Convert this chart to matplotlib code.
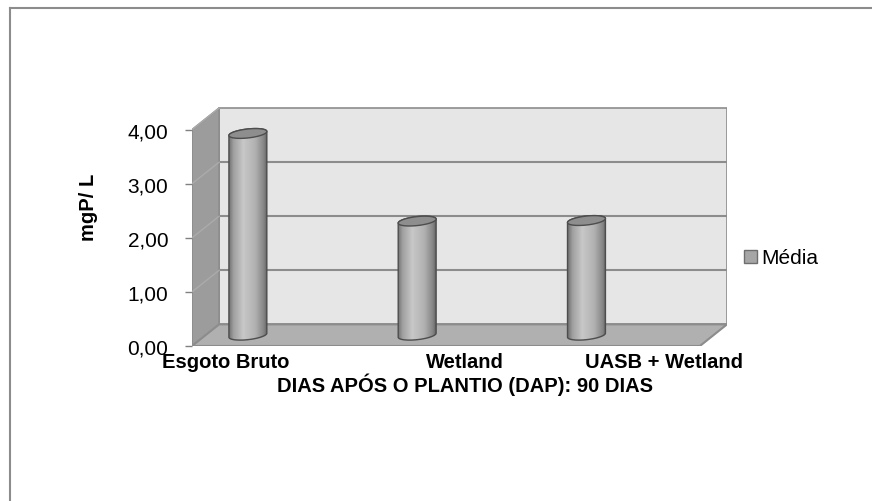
import numpy as np
import matplotlib.pyplot as plt
from matplotlib.patches import Polygon, Patch
from matplotlib.lines import Line2D
from matplotlib.colors import LinearSegmentedColormap

categorias = ['Esgoto Bruto', 'Wetland', 'UASB + Wetland']
media = [3.73, 2.11, 2.12]
yticks = [0, 1, 2, 3, 4]
ytick_labels = ['0,00', '1,00', '2,00', '3,00', '4,00']
label_pos = [-0.05, 1.36, 2.54]   # onde o Excel pôs os rótulos
titulo_x = 'DIAS APÓS O PLANTIO (DAP): 90 DIAS'

plt.rcParams['font.family'] = ['Liberation Sans', 'DejaVu Sans']

W, H = 872, 502
fig = plt.figure(figsize=(W / 100, H / 100), dpi=100)

# eixo: 1 categoria = 169.3 px, 1 mg/L = 54.08 px
x0, x1 = -0.25, 2.75
DX, DY = 0.16, 0.40  # profundidade do 3d
ymax = 4.6
ax_w = (x1 + DX - x0) * 169.3
ax_h = ymax * 54.08
ax = fig.add_axes([192 / W, 1 - 347 / H, ax_w / W, ax_h / H])
ax.set_xlim(x0, x1 + DX)
ax.set_ylim(0, ymax)
for s in ax.spines.values():
    s.set_visible(False)

# paredes
ax.add_patch(Polygon([(x0 + DX, DY), (x1 + DX, DY), (x1 + DX, 4 + DY), (x0 + DX, 4 + DY)],
                     closed=True, fc='#e6e6e6', ec='#8c8c8c', lw=1.2, zorder=1))
ax.add_patch(Polygon([(x0, 0), (x0 + DX, DY), (x0 + DX, 4 + DY), (x0, 4)],
                     closed=True, fc='#9c9c9c', ec='#8c8c8c', lw=1.2, zorder=1))
for v in yticks[1:-1]:
    ax.plot([x0 + DX, x1 + DX], [v + DY, v + DY], color='#8c8c8c', lw=1.5, zorder=1.5)
for v in yticks:
    ax.plot([x0, x0 + DX], [v, v + DY], color='#ababab', lw=1.0, zorder=1.5)
ax.add_patch(Polygon([(x0, 0), (x1, 0), (x1 + DX, DY), (x0 + DX, DY)],
                     closed=True, fc='#b0b0b0', ec='#8c8c8c', lw=1.5, zorder=2))

# cilindros
cmap = LinearSegmentedColormap.from_list('cil', [
    (0.0, '#727272'), (0.12, '#a0a0a0'), (0.38, '#c8c8c8'),
    (0.7, '#b0b0b0'), (0.92, '#858585'), (1.0, '#646464')])
a, b, sh = 0.112, 0.083, 0.33
t = np.linspace(0, np.pi, 60)
for i, v in enumerate(media):
    cx = i + DX / 2
    base = DY / 2
    top = base + v
    tb = t + np.pi
    xb = cx + a * np.cos(tb)
    yb = base + b * np.sin(tb) + sh * a * np.cos(tb)
    xt = cx + a * np.cos(t)
    yt = top + b * np.sin(t) + sh * a * np.cos(t)
    body = Polygon(np.column_stack([np.r_[xb, xt], np.r_[yb, yt]]), closed=True,
                   fc='none', ec='#4d4d4d', lw=1.0, zorder=4)
    ax.add_patch(body)
    im = ax.imshow(np.linspace(0, 1, 256)[None, :], cmap=cmap, aspect='auto',
                   extent=[cx - a, cx + a, base - 0.2, top + 0.2], zorder=3)
    im.set_clip_path(body)
    tt = np.linspace(0, 2 * np.pi, 100)
    ax.add_patch(Polygon(np.column_stack([cx + a * np.cos(tt),
                                          top + b * np.sin(tt) + sh * a * np.cos(tt)]),
                         closed=True, fc='#8e8e8e', ec='#4d4d4d', lw=1.0, zorder=5))
ax.set_xlim(x0, x1 + DX)
ax.set_ylim(0, ymax)

ax.set_yticks(yticks, ytick_labels)
ax.tick_params(axis='y', length=5, width=1, color='#808080', pad=12, labelsize=15)
ax.set_xticks(label_pos, categorias, fontweight='bold')
ax.tick_params(axis='x', length=0, pad=4.5, labelsize=14.5)
ax.set_xlabel(titulo_x, fontweight='bold', fontsize=14.5)
ax.xaxis.set_label_coords((465 - 192) / ax_w, -27 / ax_h)

fig.text(88 / W, 1 - 207 / H, 'mgP/ L', rotation=90, fontweight='bold', fontsize=14.5,
         ha='center', va='center')

fig.legend(handles=[Patch(fc='#a6a6a6', ec='#6e6e6e')], labels=['Média'],
           loc='center left', bbox_to_anchor=(744 / W, 1 - 259 / H), frameon=False,
           fontsize=15, handlelength=0.6, handleheight=0.6, handletextpad=0.25,
           borderpad=0, borderaxespad=0)

# moldura (só topo e esquerda aparecem)
fig.add_artist(Line2D([9.5 / W, 1], [1 - 9 / H, 1 - 9 / H], color='#8c8c8c', lw=1.5))
fig.add_artist(Line2D([9.5 / W, 9.5 / W], [0, 1 - 9 / H], color='#8c8c8c', lw=1.5))

fig.savefig('out.png', dpi=100)
